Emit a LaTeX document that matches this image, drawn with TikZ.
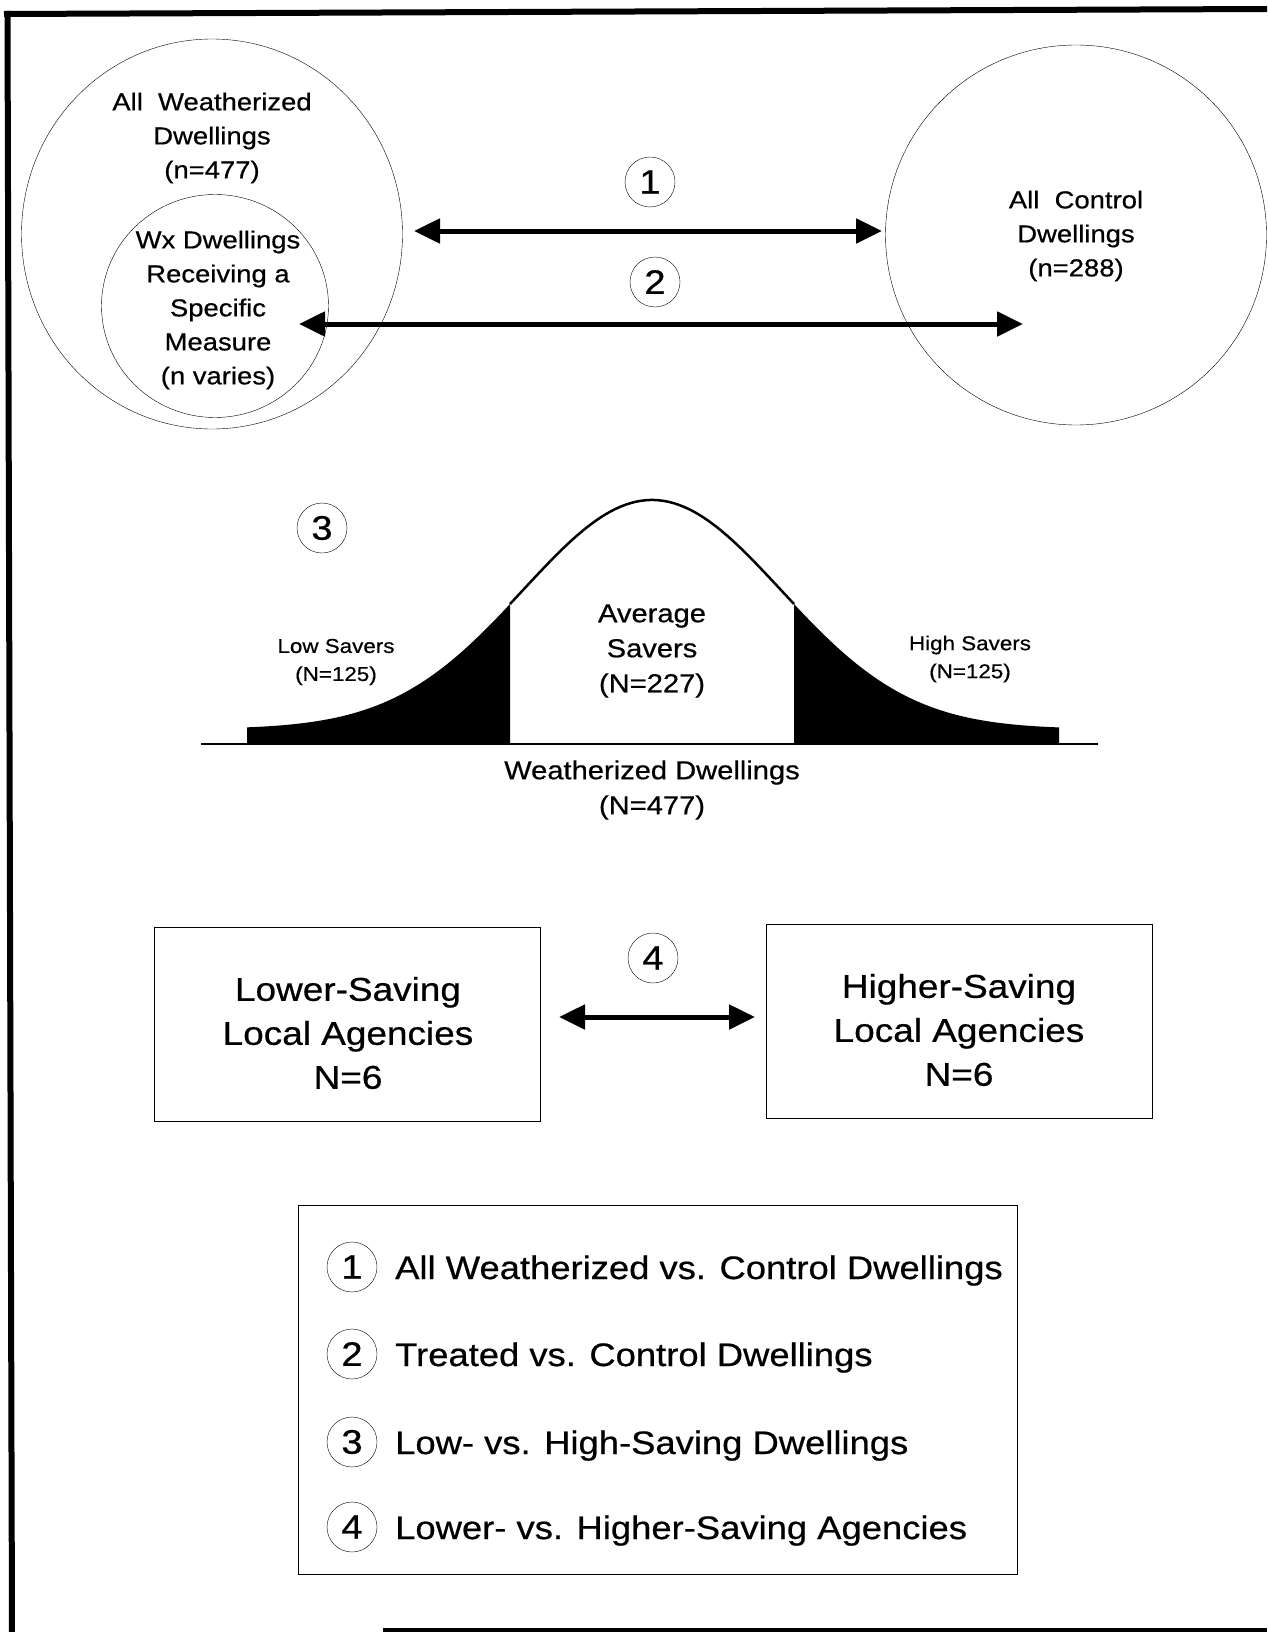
\documentclass[tikz,border=0pt]{standalone}
\usepackage{fontspec}
\setmainfont{Liberation Sans}[FakeStretch=1.12,FakeBold=0.6]
\usetikzlibrary{arrows.meta,shapes.geometric,positioning}

\begin{document}
\begin{tikzpicture}
	[x=1pt,y=-1pt,
	set/.style={ellipse,draw=black,thin,inner sep=0pt},
	num/.style={circle,draw=black,thin,inner sep=0pt,minimum size=50pt,
		font=\fontsize{34}{34}\selectfont},
	lbl/.style={align=center,font=\fontsize{24.5}{34}\selectfont},
	lbl1/.style={align=center,font=\fontsize{20}{28}\selectfont},
	lbl2/.style={align=center,font=\fontsize{26}{35}\selectfont},
	lbl3/.style={align=center,font=\fontsize{33}{44}\selectfont},
	item/.style={anchor=base west,inner sep=0pt,font=\fontsize{32.5}{36}\selectfont},
	box/.style={draw=black,thin,minimum width=386pt,minimum height=194pt},
	link/.style={line width=5pt,
		{Triangle[length=26pt,width=24pt]}-{Triangle[length=26pt,width=24pt]}}]
\useasboundingbox (0,0) rectangle (1267,1632);
%frame
\draw[line width=6pt] (4,14) -- (1267,9);
\draw[line width=6pt] (7.5,11) -- (12,1632);
\draw[line width=4pt] (383,1630) -- (1267,1630);

%dwellings
\node[set,minimum width=381pt,minimum height=390pt] (allwx) at (212,234) {};
\node[lbl] (allwxt) at (212,138) {All\ \ Weatherized\\Dwellings\\(n=477)};
\node[set,minimum width=227pt,minimum height=223pt] (spec) at (215,306) {};
\node[lbl] (spect) at (218,310) {Wx Dwellings\\Receiving a\\Specific\\Measure\\(n varies)};
\node[set,minimum width=381pt,minimum height=380pt] (ctrl) at (1076,235) {};
\node[lbl] (ctrlt) at (1076,236) {All\ \ Control\\Dwellings\\(n=288)};
\node[num] (n1) at (650,182) {1};
\node[num] (n2) at (655,282) {2};
\coordinate (a1) at (414,231);
\coordinate (b1) at (882,231);
\coordinate (a2) at (299,324);
\coordinate (b2) at (1023,324);
\draw[link] (a1) -- (b1);
\draw[link] (a2) -- (b2);

%savers
\node[num] (n3) at (322,528) {3};
\fill[black] (247,744) -- plot[domain=247:510,samples=60]
	(\x,{729-229*exp(-0.5*((\x-652)/129)^2)}) -- (510,744) -- cycle;
\fill[black] (794,744) -- plot[domain=794:1059,samples=60]
	(\x,{729-229*exp(-0.5*((\x-652)/129)^2)}) -- (1059,744) -- cycle;
\draw[line width=2.5pt] plot[domain=510:794,samples=60]
	(\x,{729-229*exp(-0.5*((\x-652)/129)^2)});
\draw[line width=1.2pt] (201,744) -- (1098,744);
\node[lbl1] (low) at (336,662) {Low Savers\\(N=125)};
\node[lbl1] (high) at (970,659) {High Savers\\(N=125)};
\node[lbl2] (avg) at (652,651) {Average\\Savers\\(N=227)};
\node[lbl2] (wxd) at (652,790) {Weatherized Dwellings\\(N=477)};

%agencies
\node[box] (lobox) at (347,1024) {};
\node[box] (hibox) at (959,1021) {};
\node[lbl3] (lotxt) at (348,1033) {Lower-Saving\\Local Agencies\\N=6};
\node[lbl3] (hitxt) at (959,1030) {Higher-Saving\\Local Agencies\\N=6};
\node[num] (n4) at (653,958) {4};
\coordinate (a4) at (559,1017);
\coordinate (b4) at (755,1017);
\draw[link] (a4) -- (b4);

%key
\node[draw=black,thin,minimum width=719pt,minimum height=369pt] (key) at (657.5,1389.5) {};
\node[num] (k1) at (352,1267) {1};
\node[num] (k2) at (352,1354) {2};
\node[num] (k3) at (352,1442) {3};
\node[num] (k4) at (352,1527) {4};
\node[item] (t1) at (395,1279) {All Weatherized vs. Control Dwellings};
\node[item] (t2) at (395,1366) {Treated vs. Control Dwellings};
\node[item] (t3) at (395,1454) {Low- vs. High-Saving Dwellings};
\node[item] (t4) at (395,1539) {Lower- vs. Higher-Saving Agencies};
\end{tikzpicture}
\end{document}
